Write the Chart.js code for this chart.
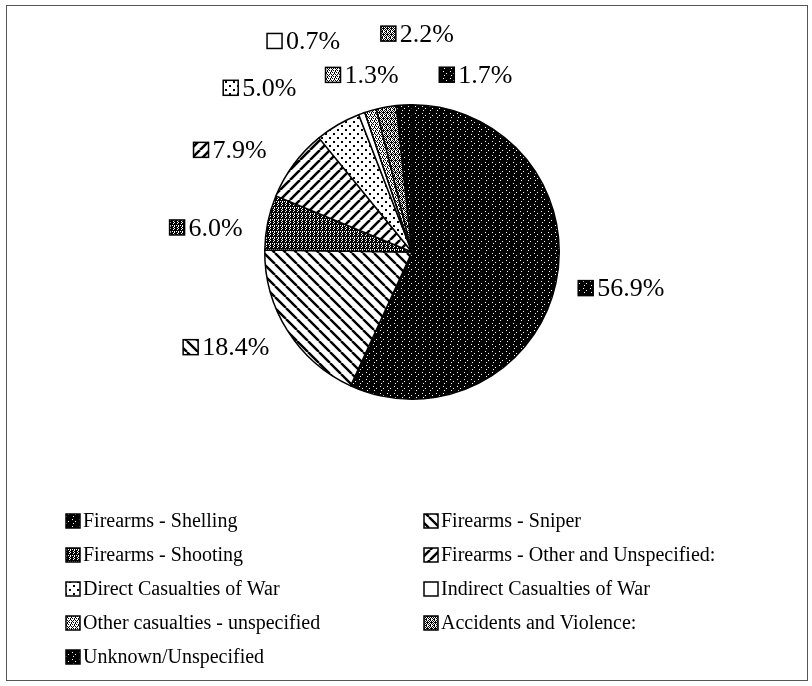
<!DOCTYPE html>
<html>
<head>
<meta charset="utf-8">
<script src="https://cdn.jsdelivr.net/npm/chart.js@4/dist/chart.umd.min.js"></script>
<style>
  html, body { margin: 0; padding: 0; background: #fff; }
</style>
</head>
<body>
<canvas id="pieChart" width="812" height="686"></canvas>
<script>
// data
const categories = [
  "Firearms - Shelling",
  "Firearms - Sniper",
  "Firearms - Shooting",
  "Firearms - Other and Unspecified:",
  "Direct Casualties of War",
  "Indirect Casualties of War",
  "Other casualties - unspecified",
  "Accidents and Violence:",
  "Unknown/Unspecified"
];
const shares = [56.9, 18.4, 6.0, 7.9, 5.0, 0.7, 1.3, 2.2, 1.7];
const shareLabels = ["56.9%", "18.4%", "6.0%", "7.9%", "5.0%", "0.7%", "1.3%", "2.2%", "1.7%"];

// layout: label pushes (px) away from the default spot at 1.42 x radius
const labelNudge = [[5, -8], [-9, -16], [-1, 18], [-14, 23], [-47, 17], [-37, -14], [9, 24], [42, -12], [75, 32]];
const legendCols = [66, 424];
const legendTop = 521;
const legendRow = 34;

// fill patterns, black & white like the scanned original
function tilePattern(rows) {
  const c = document.createElement('canvas');
  c.width = rows[0].length;
  c.height = rows.length;
  const g = c.getContext('2d');
  g.fillStyle = '#fff';
  g.fillRect(0, 0, c.width, c.height);
  g.fillStyle = '#000';
  rows.forEach((r, y) => {
    [...r].forEach((ch, x) => { if (ch === '#') g.fillRect(x, y, 1, 1); });
  });
  return g.createPattern(c, 'repeat');
}

function stripePattern(s, dir, lw) {
  const c = document.createElement('canvas');
  c.width = s;
  c.height = s;
  const g = c.getContext('2d');
  g.fillStyle = '#fff';
  g.fillRect(0, 0, s, s);
  g.strokeStyle = '#000';
  g.lineWidth = lw;
  g.beginPath();
  for (let x = -s; x <= s; x += s) {
    if (dir === 'down') { g.moveTo(x, 0); g.lineTo(x + s, s); }
    else { g.moveTo(x, s); g.lineTo(x + s, 0); }
  }
  g.stroke();
  return g.createPattern(c, 'repeat');
}

const blackSpeck = tilePattern([
  "#######",
  "##.####",
  "#######",
  "#####.#",
  "#######",
  "###.###",
  "#######"
]);
const darkMottle = tilePattern([
  "##.#",
  "#.##",
  "####",
  ".#.#",
  "##.#",
  "#.##"
]);
const dots = tilePattern([
  "........",
  ".##.....",
  ".##.....",
  "........",
  "........",
  ".....##.",
  ".....##.",
  "........"
]);
const lightStipple = tilePattern([
  "#.#.",
  "..#.",
  ".#.#",
  "#...",
  ".#.#",
  "...#"
]);
const midStipple = tilePattern([
  "#.#.",
  ".##.",
  "#.#.",
  ".#.#",
  "#.##",
  ".#.#"
]);

const fills = [
  blackSpeck,
  stripePattern(11, 'down', 2.4),
  darkMottle,
  stripePattern(10, 'up', 2.6),
  dots,
  '#ffffff',
  lightStipple,
  midStipple,
  blackSpeck
];

const serif = '"Liberation Serif", "Times New Roman", serif';

function drawKey(ctx, x, y, size, fill) {
  ctx.fillStyle = fill;
  ctx.fillRect(x, y, size, size);
  ctx.strokeStyle = '#000';
  ctx.lineWidth = 1.5;
  ctx.strokeRect(x, y, size, size);
}

const pieDecor = {
  id: 'pieDecor',
  beforeDraw(chart) {
    const ctx = chart.ctx;
    ctx.save();
    ctx.fillStyle = '#fff';
    ctx.fillRect(0, 0, chart.width, chart.height);
    ctx.strokeStyle = '#555';
    ctx.lineWidth = 1;
    ctx.strokeRect(6.5, 5.5, 801, 675);
    ctx.restore();
  },
  afterDatasetsDraw(chart) {
    const ctx = chart.ctx;
    const meta = chart.getDatasetMeta(0);
    const ds = chart.data.datasets[0];
    ctx.save();
    ctx.textBaseline = 'middle';
    ctx.textAlign = 'left';

    // percentage labels with little key boxes
    ctx.font = '26px ' + serif;
    meta.data.forEach((arc, i) => {
      const p = arc.getProps(['x', 'y', 'startAngle', 'endAngle', 'outerRadius'], true);
      const mid = (p.startAngle + p.endAngle) / 2;
      const cx = p.x + Math.cos(mid) * p.outerRadius * 1.42 + labelNudge[i][0];
      const cy = p.y + Math.sin(mid) * p.outerRadius * 1.42 + labelNudge[i][1];
      const tw = ctx.measureText(shareLabels[i]).width;
      const left = cx - (15 + 4 + tw) / 2;
      drawKey(ctx, left, cy - 8, 15, ds.backgroundColor[i]);
      ctx.fillStyle = '#000';
      ctx.fillText(shareLabels[i], left + 19, cy + 1);
    });

    // two-column legend under the pie
    ctx.font = '20px ' + serif;
    chart.data.labels.forEach((name, i) => {
      const x = legendCols[i % 2];
      const y = legendTop + Math.floor(i / 2) * legendRow;
      drawKey(ctx, x, y - 7, 14, ds.backgroundColor[i]);
      ctx.fillStyle = '#000';
      ctx.fillText(name, x + 17, y + 1);
    });
    ctx.restore();
  }
};

const ctx = document.getElementById('pieChart').getContext('2d');
const pieChart = new Chart(ctx, {
  type: 'pie',
  data: {
    labels: categories,
    datasets: [{
      data: shares,
      backgroundColor: fills,
      borderColor: '#000',
      borderWidth: 1.5
    }]
  },
  options: {
    responsive: false,
    animation: false,
    layout: { padding: { top: 104, bottom: 286, left: 12, right: 0 } },
    plugins: {
      legend: { display: false },
      tooltip: { enabled: false }
    }
  },
  plugins: [pieDecor]
});
</script>
</body>
</html>
